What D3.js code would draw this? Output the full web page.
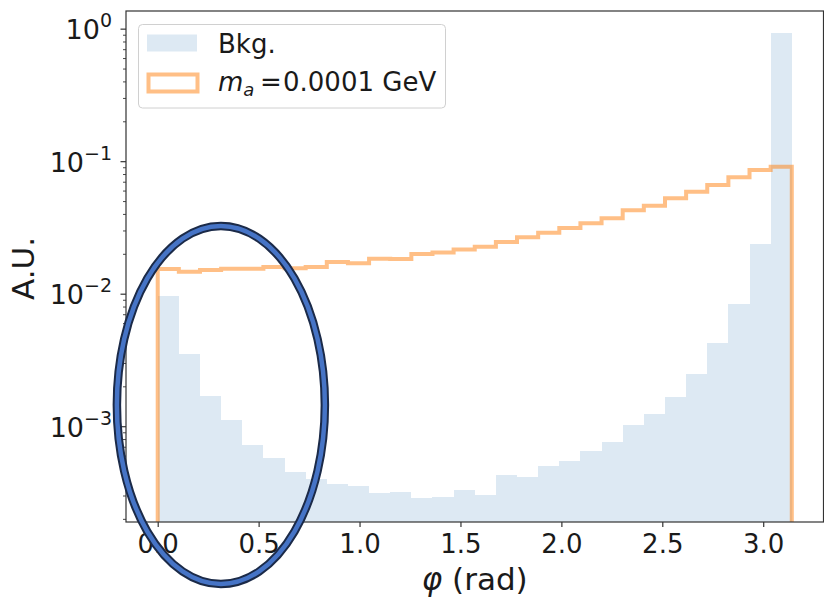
<!DOCTYPE html>
<html>
<head>
<meta charset="utf-8">
<script src="https://cdn.jsdelivr.net/npm/d3@7"></script>
<style>
  html, body { margin: 0; padding: 0; background: #fff; }
  svg { display: block; font-family: "DejaVu Sans", sans-serif; }
</style>
</head>
<body>
<div id="chart"></div>
<script>
// Azimuthal angle distributions, 30 equal bins over [0, π]
const binCount = 30;
const bkgValues = [0.00969, 0.00351, 0.00172, 0.001124, 0.000727, 0.000583, 0.000457, 0.000401,
  0.000368, 0.000359, 0.000314, 0.00032, 0.000291, 0.000297, 0.000333, 0.000307,
  0.000432, 0.000415, 0.000508, 0.000551, 0.000652, 0.000763, 0.00103, 0.001253,
  0.001684, 0.0025, 0.00428, 0.00843, 0.0239, 0.941];
const sigValues = [0.0155, 0.01478, 0.01523, 0.01558, 0.01558, 0.01604, 0.01569, 0.01604,
  0.0175, 0.0171, 0.01853, 0.01843, 0.0201, 0.02064, 0.02175, 0.02283,
  0.02477, 0.02688, 0.02912, 0.0316, 0.03428, 0.03739, 0.04305, 0.04654,
  0.05293, 0.05937, 0.06671, 0.07625, 0.08659, 0.09169];
const xTicks = [0.0, 0.5, 1.0, 1.5, 2.0, 2.5, 3.0];
const yTickExps = [0, -1, -2, -3];
const legendLabels = ["Bkg.", "m_a = 0.0001 GeV"];

const W = 824, H = 605;
const plot = { left: 126, right: 823.5, top: 11, bottom: 522 };

const edges = d3.range(binCount + 1).map(i => i * Math.PI / binCount);
const bins = edges.slice(0, -1).map((x0, i) => ({ x0, x1: edges[i + 1], bkg: bkgValues[i], sig: sigValues[i] }));

const x = d3.scaleLinear().domain([-0.1571, 3.2987]).range([plot.left, plot.right]);
const y = d3.scaleLog().domain([Math.pow(10, -3.719), Math.pow(10, 0.137)]).range([plot.bottom, plot.top]);

const svg = d3.select("#chart").append("svg").attr("width", W).attr("height", H);

const clip = svg.append("defs").append("clipPath").attr("id", "plotclip")
  .append("rect").attr("x", plot.left).attr("y", plot.top)
  .attr("width", plot.right - plot.left).attr("height", plot.bottom - plot.top);

const g = svg.append("g").attr("clip-path", "url(#plotclip)");

// background histogram (filled bars)
g.selectAll("rect.bkg").data(bins).join("rect")
  .attr("class", "bkg")
  .attr("x", d => x(d.x0))
  .attr("width", d => x(d.x1) - x(d.x0))
  .attr("y", d => y(d.bkg))
  .attr("height", d => plot.bottom - y(d.bkg))
  .attr("fill", "#dde9f3")
  .attr("shape-rendering", "crispEdges");

// signal histogram (step outline starting and ending at zero)
const stepPts = [[x(edges[0]), plot.bottom + 20]];
bins.forEach(d => { stepPts.push([x(d.x0), y(d.sig)]); stepPts.push([x(d.x1), y(d.sig)]); });
stepPts.push([x(edges[binCount]), plot.bottom + 20]);
g.append("path")
  .attr("d", d3.line()(stepPts))
  .attr("fill", "none")
  .attr("stroke", "#ff7f0e")
  .attr("stroke-opacity", 0.5)
  .attr("stroke-width", 4)
  .attr("stroke-linejoin", "miter");

// spines
const axisColor = "#333";
svg.append("rect")
  .attr("x", plot.left).attr("y", plot.top)
  .attr("width", plot.right - plot.left).attr("height", plot.bottom - plot.top)
  .attr("fill", "none").attr("stroke", axisColor).attr("stroke-width", 1.2);

// x axis ticks and labels
const xAxis = svg.append("g").attr("transform", `translate(0,${plot.bottom})`)
  .call(d3.axisBottom(x).tickValues(xTicks).tickFormat(d3.format(".1f")).tickSize(5).tickPadding(8));
xAxis.select(".domain").remove();
xAxis.selectAll("line").attr("stroke", axisColor).attr("stroke-width", 1.2);
xAxis.selectAll("text").attr("font-size", 26).attr("fill", "#1a1a1a")
  .attr("font-family", "DejaVu Sans").attr("dy", "0.71em");

// y axis: major ticks with power-of-ten labels, minor ticks
const minor = [];
for (let e = -4; e <= 0; e++) for (let m = 2; m <= 9; m++) {
  const v = m * Math.pow(10, e);
  if (v >= y.domain()[0] && v <= y.domain()[1]) minor.push(v);
}
const yG = svg.append("g");
yG.selectAll("line.minor").data(minor).join("line")
  .attr("x1", plot.left - 3).attr("x2", plot.left)
  .attr("y1", d => y(d)).attr("y2", d => y(d))
  .attr("stroke", axisColor).attr("stroke-width", 0.9);
yG.selectAll("line.major").data(yTickExps).join("line")
  .attr("x1", plot.left - 5.5).attr("x2", plot.left)
  .attr("y1", d => y(Math.pow(10, d))).attr("y2", d => y(Math.pow(10, d)))
  .attr("stroke", axisColor).attr("stroke-width", 1.2);
const yl = yG.selectAll("text.ylab").data(yTickExps).join("text")
  .attr("text-anchor", "end")
  .attr("x", plot.left - 14)
  .attr("y", d => y(Math.pow(10, d)) + 10)
  .attr("fill", "#1a1a1a");
yl.append("tspan").attr("font-size", 27).text("10");
yl.append("tspan").attr("font-size", 19).attr("dy", -12)
  .text(d => d === 0 ? "0" : "\u2212" + Math.abs(d));

// axis titles
svg.append("text")
  .attr("transform", `translate(34,${(plot.top + plot.bottom) / 2 + 2}) rotate(-90)`)
  .attr("text-anchor", "middle").attr("font-size", 31).attr("fill", "#1a1a1a")
  .text("A.U.");
const xt = svg.append("text")
  .attr("x", (plot.left + plot.right) / 2).attr("y", 590)
  .attr("text-anchor", "middle").attr("font-size", 31).attr("fill", "#1a1a1a");
xt.append("tspan").attr("font-style", "italic").text("\u03c6");
xt.append("tspan").text(" (rad)");

// legend
const lg = svg.append("g");
lg.append("rect").attr("x", 138.5).attr("y", 24.5).attr("width", 307).attr("height", 83.5)
  .attr("rx", 4).attr("fill", "#fff").attr("fill-opacity", 0.8)
  .attr("stroke", "#d0d0d0").attr("stroke-width", 1);
lg.append("rect").attr("x", 147).attr("y", 34.5).attr("width", 50).attr("height", 17)
  .attr("fill", "#dde9f3");
lg.append("rect").attr("x", 148.5).attr("y", 74.5).attr("width", 49).attr("height", 17)
  .attr("fill", "none").attr("stroke", "#ff7f0e").attr("stroke-opacity", 0.5).attr("stroke-width", 4);
lg.append("text").attr("x", 218).attr("y", 53).attr("font-size", 26).attr("fill", "#1a1a1a")
  .text(legendLabels[0]);
const sigParts = legendLabels[1].match(/^(\w)_(\w) = (.*)$/);
const lt = lg.append("text").attr("x", 218).attr("y", 91).attr("font-size", 26).attr("fill", "#1a1a1a");
lt.append("tspan").attr("font-style", "italic").text(sigParts[1]);
lt.append("tspan").attr("font-style", "italic").attr("font-size", 18).attr("dy", 5).text(sigParts[2]);
lt.append("tspan").attr("dy", -5).attr("x", 260).text("=");
lt.append("tspan").attr("x", 283).text(sigParts[3]);

// highlight ellipse around the low-angle region
const hl = svg.append("g");
hl.append("ellipse").attr("cx", x(0.313)).attr("cy", 405).attr("rx", 104).attr("ry", 179)
  .attr("fill", "none").attr("stroke", "#1b2a48").attr("stroke-width", 8.5);
hl.append("ellipse").attr("cx", x(0.313)).attr("cy", 405).attr("rx", 104).attr("ry", 179)
  .attr("fill", "none").attr("stroke", "#4674c6").attr("stroke-width", 4.5);
</script>
</body>
</html>
